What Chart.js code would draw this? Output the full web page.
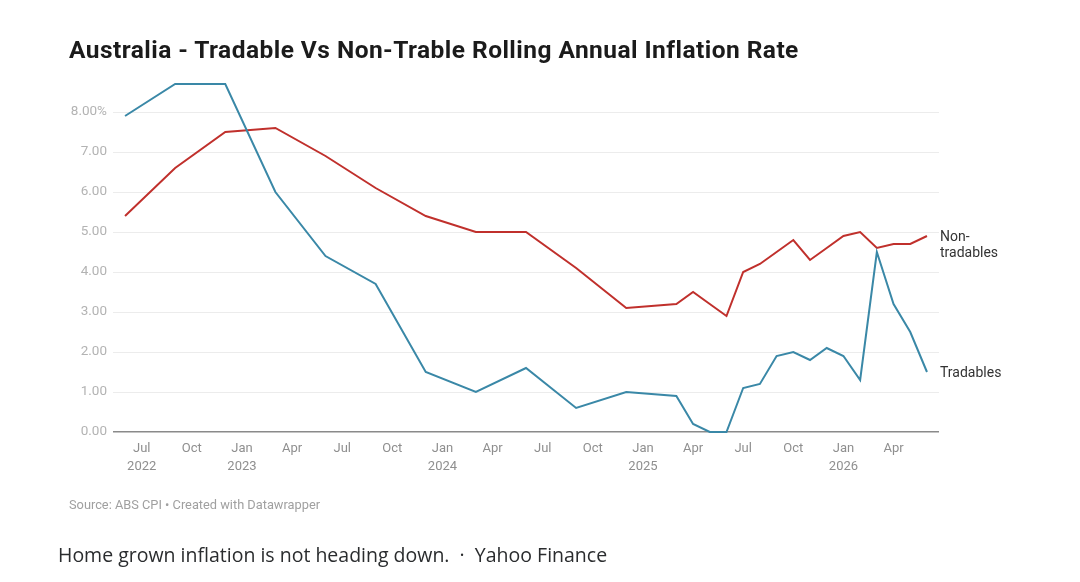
<!DOCTYPE html>
<html>
<head>
<meta charset="utf-8">
<script src="https://cdn.jsdelivr.net/npm/chart.js@4.4.1/dist/chart.umd.min.js"></script>
<style>
  body { margin: 0; background: #fff; font-family: Roboto, sans-serif; }
  #wrap { position: relative; width: 1080px; height: 582px; overflow: hidden; }
  #chart { position: absolute; left: 0; top: 0; }
  .txt { position: absolute; white-space: nowrap; }
  #title { left: 69px; top: 35px; font-size: 24.5px; font-weight: 700; letter-spacing: 0.45px; color: #1b1b1b; }
  #source { left: 69px; top: 497px; font-size: 12.8px; color: #a0a0a0; }
  #caption { left: 58px; top: 541px; font-family: "Open Sans", sans-serif; font-size: 19.5px; color: #2a2c2e; }
</style>
</head>
<body>
<div id="wrap">
  <canvas id="chart" width="1080" height="582"></canvas>
  <div class="txt" id="title">Australia - Tradable Vs Non-Trable Rolling Annual Inflation Rate</div>
  <div class="txt" id="source">Source: ABS CPI • Created with Datawrapper</div>
  <div class="txt" id="caption">Home grown inflation is not heading down. &nbsp;·&nbsp; Yahoo Finance</div>
</div>
<script>
// periods (quarterly, then monthly from Apr 2025)
var periods = ['2022-06', '2022-09', '2022-12', '2023-03', '2023-06', '2023-09', '2023-12',
    '2024-03', '2024-06', '2024-09', '2024-12', '2025-03', '2025-04', '2025-05', '2025-06',
    '2025-07', '2025-08', '2025-09', '2025-10', '2025-11', '2025-12', '2026-01', '2026-02',
    '2026-03', '2026-04', '2026-05', '2026-06'];

var tradables = [7.9, 8.7, 8.7, 6.0, 4.4, 3.7, 1.5, 1.0, 1.6, 0.6, 1.0, 0.9,
    0.2, 0.0, 0.0, 1.1, 1.2, 1.9, 2.0, 1.8, 2.1, 1.9, 1.3, 4.5, 3.2, 2.5, 1.5];

var nonTradables = [5.4, 6.6, 7.5, 7.6, 6.9, 6.1, 5.4, 5.0, 5.0, 4.1, 3.1, 3.2,
    3.5, 3.2, 2.9, 4.0, 4.2, 4.5, 4.8, 4.3, 4.6, 4.9, 5.0, 4.6, 4.7, 4.7, 4.9];

// x tick labels, one per quarter from Jul 2022
var xTickPeriods = ['2022-07', '2022-10', '2023-01', '2023-04', '2023-07', '2023-10', '2024-01',
    '2024-04', '2024-07', '2024-10', '2025-01', '2025-04', '2025-07', '2025-10', '2026-01', '2026-04'];
var xTickLabels = [['Jul', '2022'], 'Oct', ['Jan', '2023'], 'Apr', 'Jul', 'Oct', ['Jan', '2024'],
    'Apr', 'Jul', 'Oct', ['Jan', '2025'], 'Apr', 'Jul', 'Oct', ['Jan', '2026'], 'Apr'];

var yTicks = [0, 1, 2, 3, 4, 5, 6, 7, 8];

// months since Jan 2022
function monthIndex(p) {
    var parts = p.split('-');
    return (parseInt(parts[0]) - 2022) * 12 + parseInt(parts[1]) - 1;
}

function toPoints(values) {
    var pts = [];
    for (var i = 0; i < periods.length; i++) {
        pts.push({ x: monthIndex(periods[i]), y: values[i] });
    }
    return pts;
}

var tickValues = xTickPeriods.map(monthIndex);

// end-of-line labels
var endLabels = {
    id: 'endLabels',
    afterDatasetsDraw: function (chart) {
        var ctx = chart.ctx;
        var x = chart.chartArea.right + 1;
        ctx.save();
        ctx.font = '14px Roboto, sans-serif';
        ctx.fillStyle = '#333';
        ctx.textAlign = 'left';
        ctx.textBaseline = 'middle';
        chart.data.datasets.forEach(function (ds, i) {
            var meta = chart.getDatasetMeta(i);
            var last = meta.data[meta.data.length - 1];
            var lines = ds.endLabel;
            var lh = 16;
            for (var k = 0; k < lines.length; k++) {
                ctx.fillText(lines[k], x, last.y + 1 + k * lh);
            }
        });
        ctx.restore();
    }
};

var ctx = document.getElementById('chart');
var chart = new Chart(ctx, {
    type: 'line',
    data: {
        datasets: [{
            label: 'Tradables',
            endLabel: ['Tradables'],
            data: toPoints(tradables),
            borderColor: '#3a88a7',
            borderWidth: 2,
            pointRadius: 0,
            tension: 0,
            clip: 4
        }, {
            label: 'Non-tradables',
            endLabel: ['Non-', 'tradables'],
            data: toPoints(nonTradables),
            borderColor: '#c0302c',
            borderWidth: 2,
            pointRadius: 0,
            tension: 0,
            clip: 4
        }]
    },
    options: {
        responsive: false,
        animation: false,
        layout: { padding: { top: 80, right: 141, bottom: 100, left: 0 } },
        plugins: { legend: { display: false }, tooltip: { enabled: false } },
        scales: {
            x: {
                type: 'linear',
                min: monthIndex('2022-06') - 0.72,
                max: monthIndex('2026-06') + 0.72,
                afterBuildTicks: function (scale) {
                    scale.ticks = tickValues.map(function (v) { return { value: v }; });
                },
                afterFit: function (scale) { scale.height = 50; },
                grid: { display: false },
                border: { display: false },
                ticks: {
                    autoSkip: false,
                    maxRotation: 0,
                    padding: 0,
                    color: '#8f8f8f',
                    font: { family: 'Roboto', size: 13, lineHeight: 1.38 },
                    callback: function (value) {
                        var i = tickValues.indexOf(value);
                        return i >= 0 ? xTickLabels[i] : '';
                    }
                }
            },
            y: {
                min: 0,
                max: 8.8,
                afterBuildTicks: function (scale) {
                    scale.ticks = yTicks.map(function (v) { return { value: v }; });
                },
                afterFit: function (scale) { scale.width = 113; },
                border: { display: false },
                grid: {
                    drawTicks: false,
                    color: function (c) { return c.tick && c.tick.value === 0 ? '#8a8a8a' : '#ececec'; },
                    lineWidth: function (c) { return c.tick && c.tick.value === 0 ? 1.5 : 1; }
                },
                ticks: {
                    padding: 6,
                    color: '#b3b3b3',
                    font: { family: 'Roboto', size: 13.5 },
                    callback: function (value) {
                        return value === 8 ? '8.00%' : value.toFixed(2);
                    }
                }
            }
        }
    },
    plugins: [endLabels]
});
</script>
</body>
</html>
